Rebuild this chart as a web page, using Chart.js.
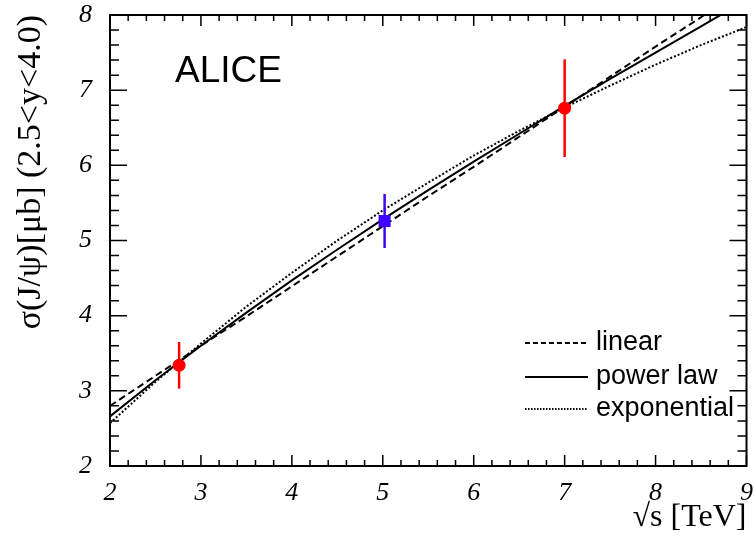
<!DOCTYPE html>
<html>
<head>
<meta charset="utf-8">
<title>ALICE J/psi cross section vs sqrt(s)</title>
<script src="https://cdn.jsdelivr.net/npm/chart.js@4.4.0/dist/chart.umd.min.js"></script>
<style>
  body { margin: 0; background: #fff; }
  #wrap { width: 755px; height: 543px; }
</style>
</head>
<body>
<div id="wrap"><canvas id="myChart" width="755" height="543"></canvas></div>
<script>
// measured points: sqrt(s) in TeV, sigma in microbarn
const redEnergy = [2.76, 7.0];
const redSigma = [3.34, 6.76];
const redError = [0.31, 0.65];

const blueEnergy = [5.02];
const blueSigma = [5.26];
const blueError = [0.36];

// the three fit curves, every 0.5 TeV
const fitEnergy = [2, 2.5, 3, 3.5, 4, 4.5, 5, 5.5, 6, 6.5, 7, 7.5, 8, 8.5, 9];
const linearFit = [2.80, 3.20, 3.60, 3.99, 4.39, 4.79, 5.19, 5.59, 5.98, 6.38, 6.78, 7.18, 7.58, 7.97, 8.37];
const powerFit  = [2.66, 3.14, 3.60, 4.04, 4.47, 4.88, 5.28, 5.67, 6.05, 6.42, 6.79, 7.15, 7.50, 7.85, 8.20];
const expFit    = [2.57, 3.12, 3.63, 4.12, 4.57, 5.00, 5.40, 5.77, 6.13, 6.46, 6.77, 7.06, 7.34, 7.60, 7.84];

const xTickLabels = [2, 3, 4, 5, 6, 7, 8, 9];
const yTickLabels = [2, 3, 4, 5, 6, 7, 8];

function pairs(xs, ys) {
  return xs.map((x, i) => ({x: x, y: ys[i]}));
}

function isMajor(v, list) {
  let r = Math.round(v);
  return Math.abs(v - r) < 1e-6 && list.includes(r);
}

// error bars, drawn just before the marker of their dataset
const errorBars = {
  id: 'errorBars',
  beforeDatasetDraw(chart, args) {
    let ds = chart.data.datasets[args.index];
    if (!ds.errors) return;
    let ctx = chart.ctx, xs = chart.scales.x, ys = chart.scales.y;
    ctx.save();
    ctx.strokeStyle = ds.backgroundColor;
    ctx.lineWidth = 2.5;
    ds.data.forEach((p, i) => {
      let px = xs.getPixelForValue(p.x);
      ctx.beginPath();
      ctx.moveTo(px, ys.getPixelForValue(p.y + ds.errors[i]));
      ctx.lineTo(px, ys.getPixelForValue(p.y - ds.errors[i]));
      ctx.stroke();
    });
    ctx.restore();
  }
};

// ROOT style frame with inward ticks on all four sides
const frame = {
  id: 'frame',
  afterDatasetsDraw(chart) {
    let ctx = chart.ctx, a = chart.chartArea;
    let xs = chart.scales.x, ys = chart.scales.y;
    ctx.save();
    ctx.strokeStyle = '#000';
    ctx.lineWidth = 1.5;
    ctx.beginPath();
    xs.ticks.forEach(t => {
      let px = xs.getPixelForValue(t.value);
      let len = isMajor(t.value, xTickLabels) ? 11 : 6;
      ctx.moveTo(px, a.bottom); ctx.lineTo(px, a.bottom - len);
      ctx.moveTo(px, a.top); ctx.lineTo(px, a.top + len);
    });
    ys.ticks.forEach(t => {
      let py = ys.getPixelForValue(t.value);
      let len = isMajor(t.value, yTickLabels) ? 17 : 9;
      ctx.moveTo(a.left, py); ctx.lineTo(a.left + len, py);
      ctx.moveTo(a.right, py); ctx.lineTo(a.right - len, py);
    });
    ctx.stroke();
    ctx.lineWidth = 2;
    ctx.strokeRect(a.left, a.top, a.right - a.left, a.bottom - a.top);
    ctx.restore();
  }
};

// experiment label and the fit legend inside the frame
const labels = {
  id: 'labels',
  afterDraw(chart) {
    let ctx = chart.ctx;
    ctx.save();
    ctx.fillStyle = '#000';
    ctx.font = '37px "Liberation Sans", Arial, sans-serif';
    ctx.textBaseline = 'alphabetic';
    ctx.fillText('ALICE', 175, 82);

    let rows = [343, 377, 409];
    let k = 0;
    ctx.font = '27px "Liberation Sans", Arial, sans-serif';
    ctx.textBaseline = 'middle';
    chart.data.datasets.forEach(ds => {
      if (!ds.legendLabel) return;
      let y = rows[k++];
      ctx.strokeStyle = ds.borderColor;
      ctx.lineWidth = 2;
      ctx.setLineDash(ds.legendDash || []);
      ctx.beginPath();
      ctx.moveTo(525, y);
      ctx.lineTo(588, y);
      ctx.stroke();
      ctx.setLineDash([]);
      ctx.fillText(ds.legendLabel, 596, y);
    });
    ctx.restore();
  }
};

const tickFont = {family: '"Liberation Serif", "Times New Roman", serif', style: 'italic', size: 26};

new Chart('myChart', {
  type: 'scatter',
  data: {
    datasets: [
      {
        label: 'linear', legendLabel: 'linear', legendDash: [5, 3],
        data: pairs(fitEnergy, linearFit),
        showLine: true, borderColor: '#000', borderWidth: 2, borderDash: [7, 4],
        pointRadius: 0, clip: 0, order: 3
      },
      {
        label: 'power law', legendLabel: 'power law',
        data: pairs(fitEnergy, powerFit),
        showLine: true, borderColor: '#000', borderWidth: 2,
        pointRadius: 0, clip: 0, order: 2
      },
      {
        label: 'exponential', legendLabel: 'exponential', legendDash: [1.5, 1.5],
        data: pairs(fitEnergy, expFit),
        showLine: true, borderColor: '#000', borderWidth: 2, borderDash: [2, 2],
        pointRadius: 0, clip: 0, order: 4
      },
      {
        label: 'pp data', errors: redError,
        data: pairs(redEnergy, redSigma),
        backgroundColor: '#ff0000', borderWidth: 0,
        pointStyle: 'circle', pointRadius: 6.5, order: 0
      },
      {
        label: 'interpolated', errors: blueError,
        data: pairs(blueEnergy, blueSigma),
        backgroundColor: '#4000ff', borderWidth: 0,
        pointStyle: 'rect', pointRadius: 8.5, order: 1
      }
    ]
  },
  options: {
    responsive: false,
    animation: false,
    layout: {padding: {left: 0, right: 7, top: 15, bottom: 0}},
    plugins: {
      legend: {display: false},
      tooltip: {enabled: false}
    },
    scales: {
      x: {
        type: 'linear', position: 'bottom', min: 2, max: 9,
        grid: {display: false},
        border: {display: false},
        ticks: {
          stepSize: 0.2, autoSkip: false, maxRotation: 0, padding: 4,
          color: '#000', font: tickFont,
          callback: v => isMajor(v, xTickLabels) ? String(Math.round(v)) : ''
        },
        title: {
          display: true, text: '√s [TeV]', align: 'end', color: '#000',
          font: {family: '"Liberation Serif", "Times New Roman", serif', size: 32},
          padding: {top: 0, bottom: 6}
        },
        afterFit(scale) {
          scale.height = 77;
          scale.paddingLeft = 0;
          scale.paddingRight = 0;
        }
      },
      y: {
        type: 'linear', position: 'left', min: 2, max: 8,
        grid: {display: false},
        border: {display: false},
        ticks: {
          stepSize: 0.2, autoSkip: false, padding: 10,
          color: '#000', font: tickFont,
          callback: v => isMajor(v, yTickLabels) ? String(Math.round(v)) : ''
        },
        title: {
          display: true, text: 'σ(J/ψ)[μb] (2.5<y<4.0)', align: 'end', color: '#000',
          font: {family: '"Liberation Serif", "Times New Roman", serif', size: 34},
          padding: {top: 11, bottom: 0}
        },
        afterFit(scale) {
          scale.width = 110;
          scale.paddingTop = 0;
          scale.paddingBottom = 0;
        }
      }
    }
  },
  plugins: [errorBars, frame, labels]
});
</script>
</body>
</html>
